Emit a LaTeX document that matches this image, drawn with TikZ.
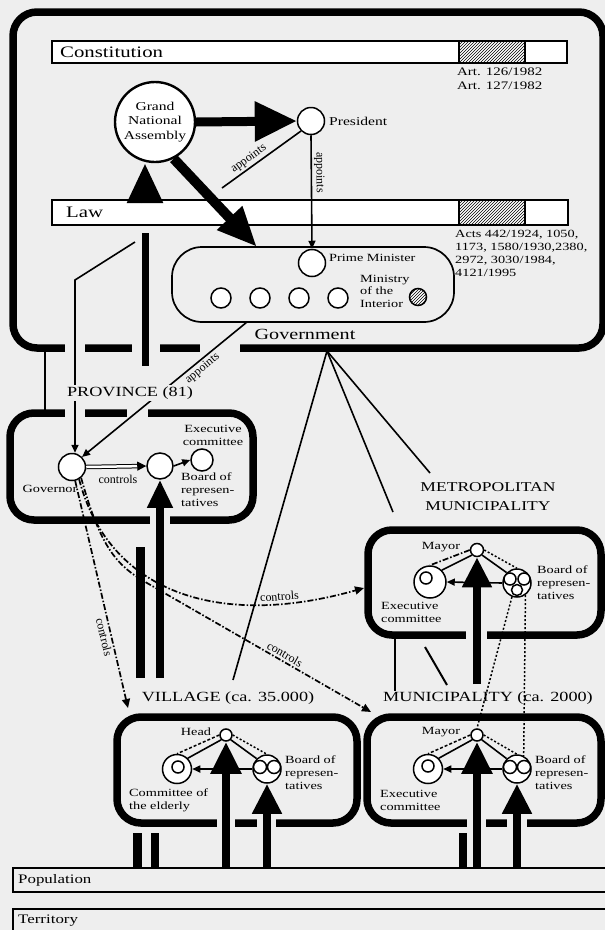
\documentclass[tikz,border=0pt]{standalone}
\usepackage{fontspec}
\setmainfont[FakeStretch=1.3]{Liberation Serif}
\newfontfamily\rotfont{Liberation Serif}
\usetikzlibrary{arrows.meta,patterns}
\definecolor{bg}{RGB}{238,238,238}
\tikzset{
  bigbox/.style={draw=black, line width=7.5pt, rounded corners=24pt, fill=bg},
  barbox/.style={draw=black, line width=1.5pt, fill=white},
  thinln/.style={line width=1.6pt},
  dashdotln/.style={line width=1.7pt, dash pattern=on 6pt off 2pt on 1.5pt off 2pt},
  dashln/.style={line width=1.5pt, dash pattern=on 3pt off 2pt},
  dotln/.style={line width=1.5pt, dash pattern=on 2pt off 2pt},
  pnode/.style={circle, draw=black, line width=1.5pt, fill=white, inner sep=0pt},
  small/.style={font=\fontsize{11}{13}\selectfont, inner sep=0pt, align=left},
  smallc/.style={font=\fontsize{11}{13}\selectfont, inner sep=0pt, align=center},
  tiny/.style={font=\rotfont\fontsize{12}{14}\selectfont, inner sep=2pt},
  title/.style={font=\fontsize{14}{17}\selectfont, inner sep=2pt, align=center},
  barlbl/.style={font=\fontsize{16}{18}\selectfont, inner sep=0pt, anchor=west},
  bigarrow/.style={line width=9pt, -{Triangle[length=40pt,width=34pt]}},
  midarrow/.style={line width=8pt, -{Triangle[length=30pt,width=28pt]}},
  thinarrow/.style={line width=1.6pt, -{Triangle[length=8pt,width=7pt]}},
  thickbar/.style={line width=8pt},
  eraser/.style={fill=bg},
}
\begin{document}
\begin{tikzpicture}[x=1pt,y=-1pt]
\useasboundingbox (0,0) rectangle (605,930);
\fill[bg] (0,0) rectangle (605,930);

% ---------------- outer government box
\draw[bigbox] (13,12) rectangle (603,348);
\fill[eraser] (65,342) rectangle (85,355);
\fill[eraser] (132,342) rectangle (160,355);
\fill[eraser] (200,342) rectangle (240,355);

% Constitution bar
\draw[barbox] (52,41) rectangle (567,63);
\fill[pattern=north east lines] (459,41) rectangle (525,63);
\draw[line width=1.5pt] (459,41) rectangle (525,63);
\node[barlbl] (const) at (60,52) {Constitution};
\node[small, anchor=north west, font=\fontsize{11.5}{14}\selectfont] (art) at (457,68) {Art. 126/1982\\Art. 127/1982};

% elected bar up to GNA
\coordinate (e1) at (145,203);
\coordinate (e2) at (145,233);
\coordinate (e3) at (145,366);
\draw[thickbar, line width=7pt] (e2) -- (e3);

% Law bar
\draw[barbox] (52,200) rectangle (568,225);
\fill[pattern=north east lines] (459,200) rectangle (525,225);
\draw[line width=1.5pt] (459,200) rectangle (525,225);
\node[barlbl] (law) at (66,212) {Law};
\node[small, anchor=north west] (acts) at (455,230) {Acts 442/1924, 1050,\\1173, 1580/1930,2380,\\2972, 3030/1984,\\4121/1995};

% GNA and President
\node[circle, draw, line width=2.4pt, fill=white, minimum size=80pt, inner sep=0pt, align=center, font=\fontsize{12}{14.5}\selectfont] (gna) at (155,122) {Grand\\National\\Assembly};
\draw[bigarrow] (e1) -- (e1 |- gna.south);
\node[pnode, minimum size=27pt] (pres) at (311,121) {};
\node[anchor=west, font=\fontsize{12}{14}\selectfont, inner sep=0pt] (preslbl) at (329,121) {President};
\draw[line width=9pt, -{Triangle[length=42pt,width=38pt]}] (gna.east) -- (pres.west);

% Government box
\node[draw, line width=1.7pt, rounded corners=30pt, minimum width=282pt, minimum height=75pt, fill=bg, inner sep=0pt] (govb) at (313,284.5) {};
\node[pnode, minimum size=27pt] (pm) at (312,263) {};
\node[small, anchor=west] (pmlbl) at (329,258) {Prime Minister};
\node[pnode, minimum size=20pt] (m1) at (221,298) {};
\node[pnode, minimum size=20pt] (m2) at (260,298) {};
\node[pnode, minimum size=20pt] (m3) at (299,298) {};
\node[pnode, minimum size=20pt] (m4) at (338,298) {};
\node[small, anchor=west, font=\fontsize{11}{12.5}\selectfont] (mint) at (360,291) {Ministry\\of the\\Interior};
\node[circle, draw, line width=1.5pt, minimum size=17pt, inner sep=0pt, preaction={fill=white}, pattern=north east lines] (mi) at (418,297) {};
\node[font=\fontsize{15.5}{17}\selectfont, inner sep=0pt] (govlbl) at (305,334) {Government};

% appoints
\draw[thinarrow] (pres.south) -- (pm.north) node[pos=0.33, sloped, above, tiny] {appoints};
\coordinate (ap1) at (222,188);
\draw[thinln] (pres.south west) -- (ap1) node[pos=0.6, sloped, above, tiny] {appoints};
\coordinate (gg) at (257,247);
\draw[line width=10pt, -{Triangle[length=40pt,width=32pt]}] (gna.-63) -- (gg);

% ---------------- province
\draw[bigbox] (10,413) rectangle (253,520);
\fill[eraser] (65,406) rectangle (85,420);
\fill[eraser] (127,406) rectangle (148,420);
\fill[eraser] (150,514) rectangle (170,527);

\node[pnode, minimum size=27pt] (gvr) at (72,467) {};
\node[pnode, minimum size=26pt] (pbd) at (160,466) {};
\node[pnode, minimum size=22pt] (pex) at (202,460) {};
\node[smallc] (gvrlbl) at (50,489) {Governor};
\node[smallc] (pexlbl) at (213,435) {Executive\\committee};
\node[small, anchor=west] (pbdlbl) at (181,490) {Board of\\represen-\\tatives};
\draw[line width=1pt, double=white, double distance=2.5pt, -{Triangle[length=9pt,width=9pt]}] (gvr.east) -- (pbd.west);
\node[tiny, inner sep=0pt] (ctl1) at (118,479) {controls};
\draw[thinarrow] (pbd.east) -- (pex.west);

\coordinate (l1) at (135,242);
\coordinate (l2) at (75,280);
\draw[thinarrow] (l1) -- (l2) -- (l2 |- gvr.north);
\coordinate (c45a) at (45,351);
\coordinate (c45b) at (45,411);
\draw[thinln] (c45a) -- (c45b);
\coordinate (ga) at (247,322);
\draw[thinarrow] (ga) -- (gvr.north east) node[pos=0.3, sloped, below, tiny] {appoints};
\node[title, fill=bg] (provlbl) at (130,393) {PROVINCE (81)};

% thick arrow & bar under province
\coordinate (pa) at (160,678);
\draw[line width=8pt, -{Triangle[length=28pt,width=24pt]}] (pa) -- (pbd.south);
\coordinate (pb1) at (140,547);
\coordinate (pb2) at (140,678);
\draw[thickbar, line width=9pt] (pb1) -- (pb2);

% ---------------- lines from government
\coordinate (gx) at (327,351);
\coordinate (gv) at (233,680);
\coordinate (gm1) at (393,512);
\coordinate (gm2) at (430,473);
\draw[thinln] (gx) -- (gv);
\draw[thinln] (gx) -- (gm1);
\draw[thinln] (gx) -- (gm2);

% ---------------- metropolitan municipality
\node[title, font=\fontsize{13.5}{19}\selectfont] (metlbl) at (488,497) {METROPOLITAN\\MUNICIPALITY};
\draw[bigbox] (368,530) rectangle (601,635);
\fill[eraser] (466,629) rectangle (487,642);
\node[pnode, minimum size=13pt] (mmy) at (477,550) {};
\node[pnode, minimum size=32pt] (mex) at (430,582) {};
\node[pnode, minimum size=12pt] (mexi) at (426,578) {};
\node[pnode, minimum size=28pt] (mbd) at (517,583) {};
\node[pnode, minimum size=12pt] (mbd1) at (510,579) {};
\node[pnode, minimum size=12pt] (mbd2) at (524,579) {};
\node[pnode, minimum size=11pt] (mbd3) at (517,590) {};
\node[smallc] (mmylbl) at (441,547) {Mayor};
\node[small, anchor=west] (mexlbl) at (381,612) {Executive\\committee};
\node[small, anchor=west] (mbdlbl) at (537,583) {Board of\\represen-\\tatives};
\draw[thinln] (mmy.south west) -- (mex.north east);
\draw[dashdotln] (mmy.west) -- (mex.north);
\draw[thinln] (mmy.south east) -- (mbd.north west);
\draw[dotln] (mmy.east) -- (mbd.north);
\draw[thinarrow] (mbd.west) -- (mex.east);
\coordinate (ma) at (477,684);
\draw[midarrow] (ma) -- (mmy.south);
\coordinate (mv1) at (395,638);
\coordinate (mv2) at (395,691);
\draw[line width=2.5pt] (mv1) -- (mv2);
\coordinate (md1) at (425,647);
\coordinate (md2) at (447,685);
\draw[line width=2pt] (md1) -- (md2);

% ---------------- labels village / municipality
\node[title] (munlbl) at (488,698) {MUNICIPALITY (ca. 2000)};
\node[title] (vlglbl) at (228,698) {VILLAGE (ca. 35.000)};

% population / territory
\draw[line width=1.5pt] (13,868) rectangle (612,892);
\node[anchor=west, font=\fontsize{13}{15}\selectfont, inner sep=0pt] (pop) at (18,880) {Population};
\draw[line width=1.5pt] (13,909) rectangle (612,940);
\node[anchor=west, font=\fontsize{13}{15}\selectfont, inner sep=0pt] (ter) at (18,921) {Territory};

% ---------------- village
\draw[bigbox] (117,717) rectangle (357,823);
\fill[eraser] (217,817) rectangle (235,830);
\fill[eraser] (257,817) rectangle (276,830);
\node[pnode, minimum size=12pt] (vhd) at (226,735) {};
\node[pnode, minimum size=29pt] (vel) at (177,769) {};
\node[pnode, minimum size=12pt] (veli) at (178,767) {};
\node[pnode, minimum size=28pt] (vbd) at (267,769) {};
\node[pnode, minimum size=13pt] (vbd1) at (260,767) {};
\node[pnode, minimum size=13pt] (vbd2) at (274,767) {};
\node[smallc] (vhdlbl) at (196,732) {Head};
\node[small, anchor=west] (vellbl) at (129,800) {Committee of\\the elderly};
\node[small, anchor=west] (vbdlbl) at (285,773) {Board of\\represen-\\tatives};
\draw[thinln] (vhd.south west) -- (vel.north east);
\draw[dashln] (vhd.west) -- (vel.north);
\draw[thinln] (vhd.south east) -- (vbd.north west);
\draw[dotln] (vhd.east) -- (vbd.north);
\draw[thinarrow] (vbd.west) -- (vel.east);
\coordinate (va1) at (226,868);
\coordinate (va2) at (267,868);
\draw[line width=8pt, -{Triangle[length=32pt,width=29pt]}] (va1) -- (vhd.south);
\draw[midarrow] (va2) -- (vbd.south);

% ---------------- municipality
\draw[bigbox] (367,717) rectangle (601,823);
\fill[eraser] (467,817) rectangle (486,830);
\fill[eraser] (507,817) rectangle (527,830);
\node[pnode, minimum size=12pt] (mhd) at (477,735) {};
\node[pnode, minimum size=29pt] (mue) at (428,769) {};
\node[pnode, minimum size=12pt] (muei) at (428,766) {};
\node[pnode, minimum size=28pt] (mub) at (517,769) {};
\node[pnode, minimum size=13pt] (mub1) at (510,767) {};
\node[pnode, minimum size=13pt] (mub2) at (524,767) {};
\node[smallc] (mhdlbl) at (441,732) {Mayor};
\node[small, anchor=west] (muelbl) at (380,800) {Executive\\committee};
\node[small, anchor=west] (mublbl) at (535,773) {Board of\\represen-\\tatives};
\draw[thinln] (mhd.south west) -- (mue.north east);
\draw[dashln] (mhd.west) -- (mue.north);
\draw[thinln] (mhd.south east) -- (mub.north west);
\draw[dotln] (mhd.east) -- (mub.north);
\draw[thinarrow] (mub.west) -- (mue.east);
\coordinate (mu1) at (477,868);
\coordinate (mu2) at (517,868);
\draw[line width=8pt, -{Triangle[length=32pt,width=29pt]}] (mu1) -- (mhd.south);
\draw[midarrow] (mu2) -- (mub.south);

% metro board to municipality
\draw[dotln] (mbd.250) -- (mhd.north);
\draw[dotln] (mbd.-55) -- (mub.63);

% short bars to population
\coordinate (b1a) at (137,833); \coordinate (b1b) at (137,868);
\coordinate (b2a) at (155,833); \coordinate (b2b) at (155,868);
\coordinate (b3a) at (463,833); \coordinate (b3b) at (463,868);
\draw[thickbar, line width=9pt] (b1a) -- (b1b);
\draw[thickbar] (b2a) -- (b2b);
\draw[thickbar] (b3a) -- (b3b);

% ---------------- controls (dash-dot) from governor
\coordinate (vtip) at (128,708);
\coordinate (mtip) at (364,588);
\coordinate (ktip) at (371,712);
\coordinate (kmid) at (147,583);
\draw[dashdotln, -{Triangle[length=9pt,width=8pt]}] (gvr.-77) -- (vtip) node[pos=0.68, sloped, below, tiny] {controls};
\draw[dashdotln, -{Triangle[length=9pt,width=8pt]}] (gvr.-60) .. controls (108,590) and (215,630) .. (mtip) node[pos=0.8, sloped, above, tiny] {controls};
\draw[dashdotln, -{Triangle[length=9pt,width=8pt]}] (gvr.-50) .. controls (100,545) and (115,565) .. (kmid) -- (ktip) node[pos=0.6, sloped, above, tiny] {controls};
\end{tikzpicture}
\end{document}
